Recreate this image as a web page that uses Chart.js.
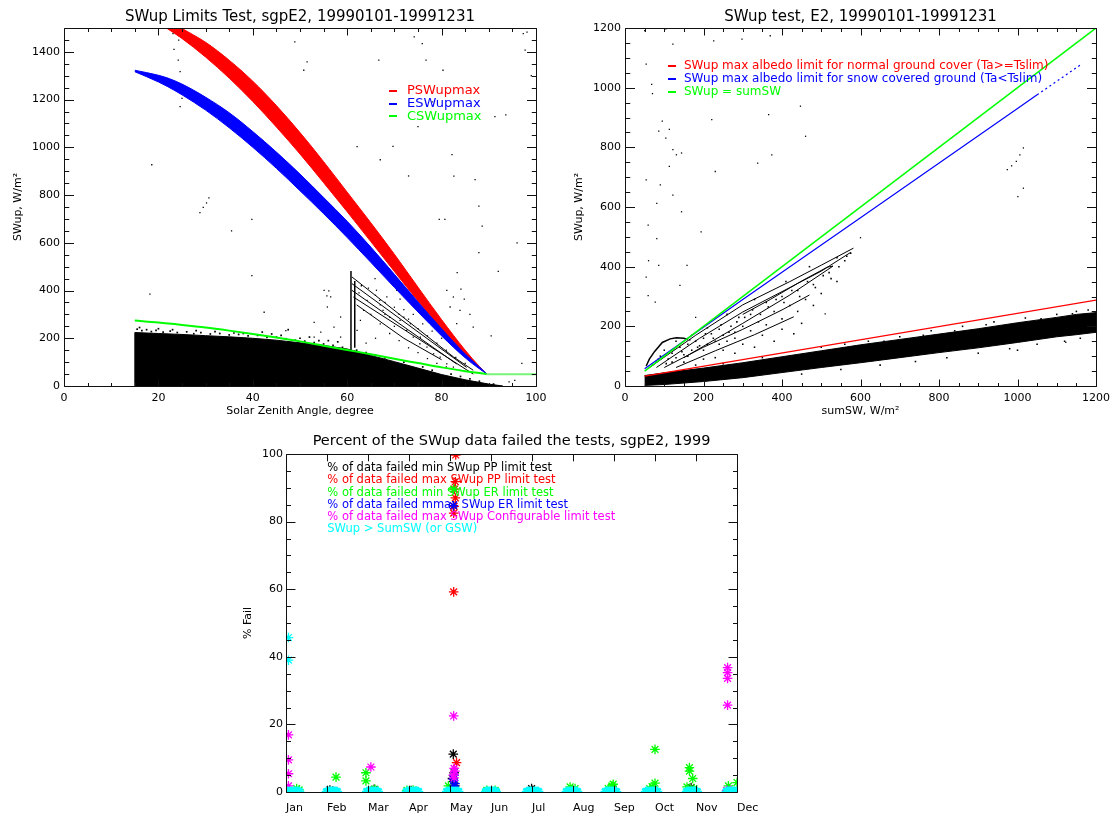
<!DOCTYPE html>
<html><head><meta charset="utf-8">
<script src="https://cdn.jsdelivr.net/npm/chart.js@4.4.1/dist/chart.umd.min.js"></script>
<style>
html,body{margin:0;padding:0;background:#fff;width:1116px;height:817px;overflow:hidden}
.panel{position:absolute}
canvas{display:block}
</style></head><body>
<div class="panel" style="left:0;top:0;width:560px;height:420px"><canvas id="c1" width="560" height="420"></canvas></div>
<div class="panel" style="left:561px;top:0;width:555px;height:420px"><canvas id="c2" width="555" height="420"></canvas></div>
<div class="panel" style="left:222px;top:420px;width:560px;height:397px"><canvas id="c3" width="560" height="397"></canvas></div>
<script>
// ---------------- Panel 1: SWup vs Solar Zenith Angle ----------------
const title1 = 'SWup Limits Test, sgpE2, 19990101-19991231';
const legend1Labels = ['PSWupmax', 'ESWupmax', 'CSWupmax'];
const bandSZA   = [15, 20, 22, 25, 30, 35, 40, 45, 50, 55, 60, 65, 70, 75, 80, 85, 88, 89.5];
const pswLower  = [1570, 1521, 1496, 1456, 1378, 1290, 1192, 1085, 972, 852, 730, 605, 480, 356, 238, 130, 75, 52];
const pswUpper  = [1576, 1550, 1532, 1498, 1440, 1365, 1277, 1175, 1062, 940, 812, 684, 552, 414, 278, 150, 82, 52];
const eswLower  = [1317, 1274, 1254, 1220, 1156, 1082, 1000, 912, 818, 722, 622, 518, 413, 310, 210, 118, 72, 52];
const eswUpper  = [1323, 1302, 1290, 1265, 1210, 1145, 1066, 980, 888, 790, 690, 582, 468, 352, 240, 134, 80, 52];
const cswSZA    = [15, 20, 25, 30, 35, 40, 45, 50, 55, 60, 65, 70, 75, 80, 85, 88, 89.5];
const cswValues = [274, 266, 256, 245, 232, 218, 203, 187, 169, 151, 133, 114, 96, 78, 62, 54, 50];
const cswFlatSZA = [89.5, 100];
const cswFlatValues = [49, 49];
const cloudSZA  = [15, 15, 20, 25, 30, 35, 40, 45, 50, 55, 60, 61, 65, 70, 75, 80, 85, 90, 93];
const cloudTop  = [0, 224, 220, 216, 211, 206, 200, 192, 181, 170, 155, 150, 128, 102, 75, 48, 26, 8, 0];
const cloudFringe = [[15.5,238],[16.5,232],[17.5,236],[18.5,228],[19.5,233],[21,226],[22.5,230],[24,224],[26,227],[27.5,219],[29,224],[31,218],[33,220],[35,214],[37,216],[39,210],[41,212],[43,204],[45,205],[47,198],[49,192],[51,188],[53,182],[55,176],[57,170],[59,162],[47.5,236],[44,218],[52,205],[56,190],[58,185],[16,245],[20,240],[28,232],[36,222],[42,226],[23,236],[32,228],[38,220],[46,212],[50,200],[54,190],[62,150],[64,140],[66,130],[68,118],[72,100],[76,80],[78,66],[82,50],[84,40],[86,30],[88,20],[91,8]];
const strayDots1 = [[23.1,1476],[23.3,1410],[24.2,1365],[24.6,1317],[24.0,1268],[25.0,1205],[24.6,1171],[24.3,1449],[28.8,726],[29.5,748],[30.2,767],[30.7,788],[18.6,927],[18.2,385],[39.8,462],[39.8,698],[42.4,309],[48.9,1442],[51.5,1358],[50.8,1323],[47.0,232],[53.0,267],[55.7,378],[56.1,399],[66.7,1365],[67.0,948],[69.7,1004],[74.2,1463],[75.0,1087],[75.9,1435],[76.7,1365],[80.3,1323],[79.5,698],[80.7,698],[82.2,969],[82.6,879],[83.3,475],[84.1,406],[84.8,364],[87.1,865],[87.9,754],[87.9,559],[88.6,670],[91.3,1129],[93.6,1136],[97.3,1476],[97.7,1407],[98.1,1483],[94.3,17],[95.5,24],[69.7,462],[71.2,364],[62.1,1003],[45.5,1080],[35.5,650],[96.0,600],[99.0,1300],[92.0,480],[73.0,880],[78.0,1190],[86.0,300],[90.5,210],[97.0,95]];
const trailDots1 = [[65.9,450],[66.2,401],[66.9,359],[67.6,317],[69.0,289],[70.5,401],[69.8,429],[68.4,373],[71.2,275],[72.6,233],[74.0,205],[75.4,177],[72.0,289],[73.4,261],[75.5,205],[76.9,163],[78.3,135],[79.7,121],[81.1,93],[82.5,79],[83.9,65],[64.2,359],[63.5,317],[62.8,275],[62.1,233],[58.6,289],[57.2,247],[55.8,331],[55.1,401],[54.4,226],[53.0,205],[56.5,373],[58.6,205],[81.1,401],[82.5,373],[81.8,331],[83.9,317],[83.2,261],[86.7,247],[67,340],[68,300],[70,250],[72,320],[74,300],[76,260],[78,230],[80,200],[66,200],[64,180],[63,420],[64.5,410],[66,380],[68,350],[70,330],[71,300],[73,280],[75,240],[77,210],[79,180],[81,150],[83,120],[85,95],[62.5,390],[65,300],[67,260],[69,220],[71,190],[73,160],[75,140],[77,115],[79,95],[81,80]];
const streak1a = [[61.0,457],[82.5,122],[86.7,66]];
const streak1b = [[61.0,429],[85.3,78]];
const streak1c = [[61.0,401],[83.2,92]];
const streak1d = [[61.3,373],[86.7,50]];
const streak1e = [[62,340],[72,200],[80,110]];
const strip1a  = [[60.8,150],[60.8,482]];
const strip1b  = [[61.6,160],[61.6,440]];

// ---------------- Panel 2: SWup vs sumSW ----------------
const title2 = 'SWup test, E2, 19990101-19991231';
const legend2Labels = ['SWup max albedo limit for normal ground cover (Ta>=Tslim)', 'SWup max albedo limit for snow covered ground (Ta<Tslim)', 'SWup = sumSW'];
const equalLine = [[50,50],[1200,1200]];
const snowLimit = [[50,58],[300,290],[600,564],[1000,930],[1050,976]];
const snowLimitTail = [[1050,976],[1160,1076]];
const normalLimit = [[50,33],[1200,288]];
const bandSum  = [50, 100, 200, 300, 400, 500, 600, 700, 800, 900, 1000, 1100, 1150, 1200];
const bandLow  = [2, 5, 15, 28, 45, 62, 78, 95, 112, 128, 146, 165, 172, 180];
const bandHigh = [35, 44, 60, 78, 98, 118, 138, 156, 174, 192, 212, 230, 240, 246];
const snowStreakA = [[60,60],[180,170],[300,272],[420,350],[500,405],[582,462]];
const snowStreakB = [[80,62],[190,160],[300,248],[420,330],[500,385],[575,448]];
const snowStreakC = [[150,95],[300,210],[420,305],[530,402],[515,398],[450,352],[370,290],[300,240]];
const snowStreakD = [[100,62],[200,130],[300,190],[400,255],[470,305]];
const snowStreakE = [[130,62],[230,118],[330,172],[430,232]];
const snowArc = [[54,67],[62,90],[75,115],[95,146],[115,158],[131,162],[150,160],[160,155]];
const strayDots2 = [[86,854],[95,888],[104,831],[113,860],[122,792],[131,775],[144,781],[113,736],[90,674],[54,691],[59,539],[81,494],[86,404],[54,365],[59,303],[77,281],[68,1011],[54,1079],[50,1191],[104,1197],[122,1146],[226,1157],[298,1163],[370,1174],[366,910],[447,938],[460,837],[338,747],[374,775],[221,893],[230,719],[144,584],[122,640],[81,612],[140,337],[158,404],[194,517],[974,725],[985,738],[997,753],[1006,775],[1015,798],[1015,663],[1001,635],[510,242],[781,135],[1123,146],[60,420],[70,980],[180,230],[600,497]];
const snowDots2 = [[80,80],[90,100],[110,90],[120,110],[130,95],[140,130],[150,105],[160,140],[170,120],[180,150],[190,135],[200,160],[210,140],[220,175],[230,150],[240,190],[250,170],[260,150],[270,200],[280,180],[290,230],[300,200],[320,240],[340,215],[360,280],[380,250],[400,300],[420,270],[440,320],[460,290],[480,340],[500,310],[520,380],[540,350],[560,420],[150,80],[200,90],[250,120],[300,140],[350,170],[400,190],[450,210],[180,70],[230,95],[280,110],[330,130],[380,150],[430,175],[100,120],[130,150],[170,170],[210,195],[260,240],[330,290],[410,350],[470,400],[540,430],[575,445],[70,70],[85,90],[105,75],[125,125],[145,115],[165,155],[185,130],[205,175],[225,160],[245,205],[265,180],[285,215],[305,230],[325,255],[345,240],[365,265],[385,290],[405,280],[425,320],[445,300],[465,350],[485,330],[505,370],[525,360],[545,400],[565,435],[120,80],[160,100],[200,120],[240,140],[280,160],[320,185],[360,205],[400,225],[440,250],[480,270]];
const bandFringe2 = [[620,150],[700,165],[780,185],[860,200],[940,215],[1020,228],[1100,240],[1150,250],[1180,255],[1190,235],[1120,150],[1050,140],[980,125],[900,110],[820,95],[740,82],[1160,160],[1000,120],[1200,225],[1170,200],[1080,205],[960,190],[880,170],[650,70],[550,55],[450,40],[500,130],[560,140],[660,150],[760,170],[840,185],[920,205],[1060,225],[1140,242],[350,95],[250,75],[150,52]];

// ---------------- Panel 3: percent of data failing ----------------
const title3 = 'Percent of the SWup data failed the tests, sgpE2, 1999';
const monthLabels = ['Jan','Feb','Mar','Apr','May','Jun','Jul','Aug','Sep','Oct','Nov','Dec'];
const legend3Labels = ['% of data failed min SWup PP limit test', '% of data failed max SWup PP limit test', '% of data failed min SWup ER limit test', '% of data failed mmax SWup ER limit test', '% of data failed max SWup Configurable limit test', 'SWup > SumSW (or GSW)'];
const seriesColors3 = ['#000000', '#ff0000', '#00ff00', '#0000ff', '#ff00ff', '#00ffff'];
const failMinPP = [[1.07,0.6],[2.15,0.8],[4.08,11.2],[4.1,5.7],[4.06,4.0],[4.12,1.8],[4.1,1.2],[5.99,1.0],[7.98,0.6],[8.95,0.8],[9.88,1.3],[3.05,0.4]];
const failMaxPP = [[4.14,99.7],[4.13,91.8],[4.11,89.6],[4.13,87.0],[4.1,84.5],[4.09,82.5],[4.09,59.2],[4.16,8.7]];
const failMinER = [[0.26,1.0],[0.32,0.6],[1.22,4.4],[1.95,5.7],[1.95,3.3],[2.17,0.8],[2.1,0.5],[2.95,0.5],[3.1,0.6],[3.96,1.8],[4.09,89.6],[4.9,0.5],[5.1,0.5],[6.93,1.5],[7.05,1.0],[7.86,1.0],[7.95,1.8],[7.98,2.3],[8.87,1.0],[8.93,1.6],[9.0,2.6],[9.0,12.6],[9.78,1.5],[9.84,7.2],[9.84,6.2],[9.92,4.0],[9.95,1.0],[10.79,1.8],[11.0,2.8]];
const failMaxER = [[4.08,84.7],[4.1,5.0],[4.08,3.8],[4.12,2.5],[4.1,1.8]];
const failConfig = [[0.06,16.9],[0.06,9.5],[0.06,5.4],[0.06,1.8],[2.07,7.4],[4.09,22.5],[4.1,7.0],[4.12,6.2],[4.08,5.0],[4.1,4.2],[10.77,36.8],[10.77,35.3],[10.77,33.6],[10.77,25.7],[10.75,0.5],[10.85,0.5]];
const failSumSWHigh = [[0.06,45.7],[0.06,39.0]];
const cyanZeroDays = [
  0.02,0.05,0.09,0.12,0.15,0.19,0.22,0.25,0.29,0.32,
  1.00,1.03,1.06,1.08,1.11,1.13,1.16,1.19,1.21,1.24,
  1.98,2.01,2.04,2.07,2.10,2.12,2.15,2.18,2.21,2.24,
  2.95,2.98,3.01,3.04,3.07,3.10,3.13,3.16,3.19,3.22,
  3.93,3.96,3.99,4.02,4.05,4.08,4.11,4.14,4.17,4.20,
  4.88,4.91,4.93,4.96,4.99,5.01,5.04,5.07,5.09,5.12,
  5.88,5.91,5.94,5.97,6.00,6.03,6.06,6.09,6.12,6.15,
  6.85,6.88,6.91,6.93,6.96,6.99,7.02,7.04,7.07,7.10,
  7.80,7.83,7.86,7.88,7.91,7.94,7.97,7.99,8.02,8.05,
  8.78,8.81,8.84,8.87,8.90,8.93,8.96,8.99,9.02,9.05,
  9.78,9.81,9.83,9.86,9.89,9.91,9.94,9.97,9.99,10.02,
  10.75,10.78,10.81,10.83,10.86,10.89,10.92,10.94,10.97,11.00];
const cyanZeroValue = 0;

// ---------------- helpers ----------------
Chart.defaults.font.family = "'DejaVu Sans', sans-serif";
Chart.defaults.font.size = 11;
Chart.defaults.color = '#000';
Chart.defaults.animation = false;
Chart.defaults.events = [];
Chart.defaults.plugins.legend.display = false;
Chart.defaults.plugins.tooltip.enabled = false;

const P = arr => arr.map(([x, y]) => ({x, y}));
const XY = (xs, ys) => xs.map((x, i) => ({x, y: ys[i]}));
const poly = (xs, lo, hi) => [...XY(xs, lo), ...XY(xs, hi).reverse()];

function lineDs(data, color, width, order, extra) {
  return Object.assign({data, showLine: true, borderColor: color, backgroundColor: color, borderWidth: width, pointRadius: 0, fill: false, tension: 0, order}, extra || {});
}
function shapeDs(data, color, order) {
  return {data, showLine: true, borderColor: color, backgroundColor: color, borderWidth: 1, pointRadius: 0, fill: 'shape', tension: 0, order};
}
function dotDs(data, color, r, order, style, bw) {
  return {data, showLine: false, pointRadius: r, pointStyle: style || 'rect', pointBackgroundColor: color, pointBorderColor: color, pointBorderWidth: bw || 0, order};
}
const smooth = {cubicInterpolationMode: 'monotone'};

const frameTicks = {
  id: 'frameTicks',
  afterDatasetsDraw(chart, args, o) {
    const {ctx, chartArea: a} = chart;
    const xs = chart.scales.x, ys = chart.scales.y;
    const L = Math.round(a.left) + 0.5, R = Math.round(a.right) + 0.5, T = Math.round(a.top) + 0.5, B = Math.round(a.bottom) + 0.5;
    ctx.save();
    ctx.strokeStyle = '#111'; ctx.lineWidth = 1;
    ctx.beginPath();
    ctx.rect(L, T, R - L, B - T);
    const isMajor = (v, s) => Math.abs(v / s - Math.round(v / s)) < 1e-6;
    const nx = Math.round((xs.max - xs.min) / o.xMinor);
    for (let i = 0; i <= nx; i++) {
      const v = xs.min + i * o.xMinor;
      const len = isMajor(v, o.xMajor) ? o.xLen : o.xLen / 2;
      const p = Math.round(xs.getPixelForValue(v)) + 0.5;
      ctx.moveTo(p, B); ctx.lineTo(p, B - len);
      ctx.moveTo(p, T); ctx.lineTo(p, T + len);
    }
    const ny = Math.round((ys.max - ys.min) / o.yMinor);
    for (let i = 0; i <= ny; i++) {
      const v = ys.min + i * o.yMinor;
      const len = isMajor(v, o.yMajor) ? o.yLen : o.yLen / 2;
      const p = Math.round(ys.getPixelForValue(v)) + 0.5;
      ctx.moveTo(L, p); ctx.lineTo(L + len, p);
      ctx.moveTo(R, p); ctx.lineTo(R - len, p);
    }
    ctx.stroke();
    ctx.restore();
  }
};

const textLegend = {
  id: 'textLegend',
  afterDraw(chart, args, o) {
    if (!o.labels) return;
    const {ctx, chartArea: a} = chart;
    ctx.save();
    ctx.font = o.font;
    ctx.textBaseline = 'middle';
    ctx.textAlign = 'left';
    o.labels.forEach((t, i) => {
      const y = a.top + o.dy + i * o.gap;
      const c = o.colors[i];
      if (o.dash) {
        ctx.fillStyle = c;
        ctx.fillRect(a.left + o.dash[0], Math.round(y) - 1, o.dash[1] - o.dash[0], 2);
      }
      ctx.fillStyle = c;
      ctx.fillText(t, a.left + o.dx, y);
    });
    ctx.restore();
  }
};

const plainNum = v => String(v);
function titleOpts(text, pt, pb, size) {
  return {display: true, text, fullSize: false, color: '#000', font: {size: size, weight: 'normal'}, padding: {top: pt, bottom: pb}};
}
function axisX(min, max, step, label, height, pad, tickExtra) {
  return {
    type: 'linear', min, max,
    grid: {display: false, drawTicks: false}, border: {display: false},
    ticks: Object.assign({stepSize: step, padding: pad, maxRotation: 0, autoSkip: false, includeBounds: false, color: '#000', font: {size: 11}, callback: plainNum}, tickExtra || {}),
    title: label ? {display: true, text: label, color: '#000', font: {size: 11}, padding: {top: 0, bottom: 2.4}} : {display: false},
    afterFit: s => { s.height = height; }
  };
}
function axisY(min, max, step, label, width, titlePad, pad) {
  return {
    type: 'linear', min, max,
    grid: {display: false, drawTicks: false}, border: {display: false},
    ticks: {stepSize: step, padding: pad, includeBounds: false, color: '#000', font: {size: 11}, callback: plainNum},
    title: {display: true, text: label, color: '#000', font: {size: 11}, padding: {top: titlePad, bottom: 0}},
    afterFit: s => { s.width = width; }
  };
}

// ---------------- Chart 1 ----------------
new Chart(document.getElementById('c1'), {
  type: 'line',
  data: {datasets: [
    lineDs(XY(cswSZA, cswValues), '#00ff00', 2, 0, smooth),                         // 0
    lineDs(XY(cswFlatSZA, cswFlatValues), '#77f577', 2, 0),                          // 1
    lineDs(XY(bandSZA, eswLower), '#0000ff', 1, 1, smooth),                          // 2
    lineDs(XY(bandSZA, eswUpper), '#0000ff', 1, 1, Object.assign({fill: '-1'}, smooth)), // 3
    lineDs(XY(bandSZA, pswLower), '#ff0000', 1, 2, smooth),                          // 4
    lineDs(XY(bandSZA, pswUpper), '#ff0000', 1, 2, Object.assign({fill: '-1'}, smooth)), // 5
    lineDs(P(streak1a), '#000', 1, 3),
    lineDs(P(streak1b), '#000', 1, 3),
    lineDs(P(streak1c), '#000', 1, 3),
    lineDs(P(streak1d), '#000', 1, 3),
    lineDs(P(streak1e), '#000', 1, 3),
    lineDs(P(strip1a), '#000', 1.5, 3),
    lineDs(P(strip1b), '#000', 1.5, 3),
    dotDs(P(strayDots1), '#000', 0.9, 4),
    dotDs(P(trailDots1), '#000', 0.9, 4),
    dotDs(P(cloudFringe), '#000', 1.2, 4),
    lineDs(XY(cloudSZA, cloudTop), '#000', 1, 5, {fill: 'origin'})
  ]},
  options: {
    responsive: false, devicePixelRatio: 1,
    layout: {padding: {left: 0, right: 24, top: 0, bottom: 0}},
    scales: {
      x: axisX(0, 100, 20, 'Solar Zenith Angle, degree', 34, 6),
      y: axisY(0, 1500, 200, 'SWup, W/m²', 64, 11.4, 4)
    },
    plugins: {
      title: titleOpts(title1, 8, 2, 15),
      frameTicks: {xMajor: 20, xMinor: 5, yMajor: 200, yMinor: 50, xLen: 7, yLen: 9.5},
      textLegend: {labels: legend1Labels, colors: ['#ff0000', '#0000ff', '#00ff00'], font: "13px 'DejaVu Sans'", dx: 343, dy: 62.6, gap: 12.9, dash: [325, 333]}
    }
  },
  plugins: [frameTicks, textLegend]
});

// ---------------- Chart 2 ----------------
new Chart(document.getElementById('c2'), {
  type: 'line',
  data: {datasets: [
    lineDs(P(equalLine), '#00ff00', 1.5, 0),
    lineDs(P(snowLimit), '#0000ff', 1.2, 1),
    lineDs(P(snowLimitTail), '#0000ff', 1.2, 1, {borderDash: [2, 3]}),
    lineDs(P(normalLimit), '#ff0000', 1.2, 2),
    lineDs(P(snowStreakA), '#000', 1, 3),
    lineDs(P(snowStreakB), '#000', 1, 3),
    lineDs(P(snowStreakC), '#000', 1, 3),
    lineDs(P(snowStreakD), '#000', 1, 3),
    lineDs(P(snowStreakE), '#000', 1, 3),
    lineDs(P(snowArc), '#000', 1.5, 3),
    dotDs(P(strayDots2), '#000', 0.9, 4),
    dotDs(P(snowDots2), '#000', 1.1, 4),
    dotDs(P(bandFringe2), '#000', 1.1, 4),
    shapeDs(poly(bandSum, bandLow, bandHigh), '#000', 5)
  ]},
  options: {
    responsive: false, devicePixelRatio: 1,
    layout: {padding: {left: 0, right: 19, top: 0, bottom: 0}},
    scales: {
      x: axisX(0, 1200, 200, 'sumSW, W/m²', 34, 6),
      y: axisY(0, 1200, 200, 'SWup, W/m²', 64, 11.4, 4)
    },
    plugins: {
      title: titleOpts(title2, 8, 2, 15),
      frameTicks: {xMajor: 200, xMinor: 50, yMajor: 200, yMinor: 50, xLen: 7, yLen: 9.5},
      textLegend: {labels: legend2Labels, colors: ['#ff0000', '#0000ff', '#00ff00'], font: "12px 'DejaVu Sans'", dx: 59, dy: 38, gap: 13.1, dash: [43, 51]}
    }
  },
  plugins: [frameTicks, textLegend]
});

// ---------------- Chart 3 ----------------
const star = (data, color, order, r, bw) => ({data, showLine: false, pointStyle: 'star', pointRadius: r || 4.8, pointBorderWidth: bw || 1.3, pointBorderColor: color, pointBackgroundColor: color, order, clip: 0});
new Chart(document.getElementById('c3'), {
  type: 'line',
  data: {datasets: [
    star(cyanZeroDays.map(x => ({x, y: cyanZeroValue})), seriesColors3[5], 0, 5.2, 2.4),
    star(P(failSumSWHigh), seriesColors3[5], 0),
    star(P(failConfig), seriesColors3[4], 1),
    star(P(failMaxER), seriesColors3[3], 2),
    star(P(failMinER), seriesColors3[2], 3),
    star(P(failMaxPP), seriesColors3[1], 4),
    star(P(failMinPP), seriesColors3[0], 5)
  ]},
  options: {
    responsive: false, devicePixelRatio: 1,
    layout: {padding: {left: 0, right: 45, top: 0, bottom: 0}},
    scales: {
      x: axisX(0, 11, 1, null, 25, 9.7, {align: 'start', callback: v => monthLabels[v]}),
      y: axisY(0, 100, 20, '% Fail', 64, 19.7, 3)
    },
    plugins: {
      title: titleOpts(title3, 12.3, 4.3, 14.5),
      frameTicks: {xMajor: 1, xMinor: 1, yMajor: 20, yMinor: 5, xLen: 6.8, yLen: 9},
      textLegend: {labels: legend3Labels, colors: seriesColors3, font: "11.5px 'DejaVu Sans'", dx: 41.3, dy: 14.3, gap: 12.2}
    }
  },
  plugins: [frameTicks, textLegend]
});
</script>
</body></html>
